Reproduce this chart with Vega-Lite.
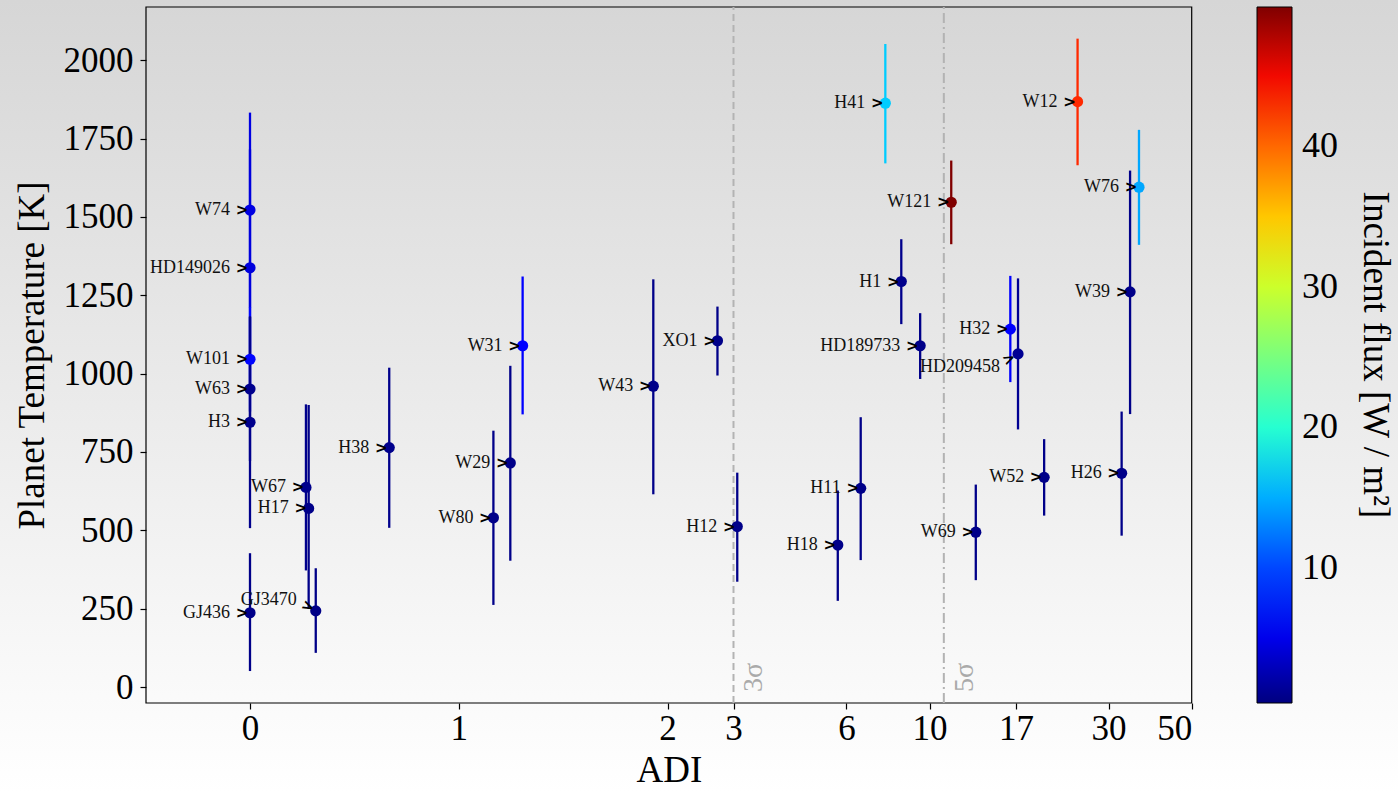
{
  "$schema": "https://vega.github.io/schema/vega-lite/v6.json",
  "width": 1398,
  "height": 793,
  "padding": 0,
  "autosize": {"type": "none"},
  "config": {
    "font": "Liberation Serif",
    "view": {
      "stroke": null,
      "fill": {"gradient": "linear", "x1": 0, "y1": 0, "x2": 0, "y2": 1,
        "stops": [{"offset": 0, "color": "#d6d6d6"}, {"offset": 1, "color": "#ffffff"}]}
    },
    "axis": {
      "labelFont": "Liberation Serif", "titleFont": "Liberation Serif",
      "labelColor": "black", "titleColor": "black", "titleFontWeight": "normal",
      "tickColor": "black", "tickSize": 6, "tickWidth": 1.2, "domain": false, "grid": false,
      "labelFontSize": 35, "titleFontSize": 37
    },
    "text": {"font": "Liberation Serif"}
  },
  "datasets": {
    "planets": [
      {"name": "W74", "adi": 0, "temp": 1522, "lo": 1211, "hi": 1833, "flux": 4.6},
      {"name": "HD149026", "adi": 0, "temp": 1338, "lo": 960, "hi": 1716, "flux": 4.4},
      {"name": "W101", "adi": 0, "temp": 1046, "lo": 879, "hi": 1213, "flux": 6.8},
      {"name": "W63", "adi": 0, "temp": 951, "lo": 721, "hi": 1181, "flux": 1.0},
      {"name": "H3", "adi": 0, "temp": 845, "lo": 507, "hi": 1183, "flux": 0.9},
      {"name": "GJ436", "adi": 0, "temp": 237, "lo": 51, "hi": 427, "flux": 0.8},
      {"name": "W67", "adi": 0.268, "temp": 637, "lo": 372, "hi": 902, "flux": 0.9},
      {"name": "H17", "adi": 0.281, "temp": 570, "lo": 250, "hi": 900, "flux": 0.8},
      {"name": "GJ3470", "adi": 0.315, "temp": 243, "lo": 109, "hi": 379, "flux": 0.7},
      {"name": "H38", "adi": 0.667, "temp": 764, "lo": 508, "hi": 1019, "flux": 0.9},
      {"name": "W80", "adi": 1.166, "temp": 540, "lo": 262, "hi": 818, "flux": 0.8},
      {"name": "W29", "adi": 1.247, "temp": 715, "lo": 403, "hi": 1025, "flux": 0.8},
      {"name": "W31", "adi": 1.306, "temp": 1089, "lo": 870, "hi": 1310, "flux": 6.5},
      {"name": "W43", "adi": 1.932, "temp": 960, "lo": 615, "hi": 1301, "flux": 0.8},
      {"name": "XO1", "adi": 2.73, "temp": 1105, "lo": 994, "hi": 1214, "flux": 0.8},
      {"name": "H12", "adi": 3.08, "temp": 512, "lo": 336, "hi": 684, "flux": 0.8},
      {"name": "H18", "adi": 5.71, "temp": 453, "lo": 275, "hi": 627, "flux": 0.8},
      {"name": "H11", "adi": 6.61, "temp": 634, "lo": 405, "hi": 861, "flux": 0.8},
      {"name": "H41", "adi": 7.66, "temp": 1863, "lo": 1671, "hi": 2052, "flux": 16.5},
      {"name": "H1", "adi": 8.44, "temp": 1294, "lo": 1158, "hi": 1429, "flux": 0.9},
      {"name": "HD189733", "adi": 9.48, "temp": 1089, "lo": 983, "hi": 1193, "flux": 0.8},
      {"name": "W121", "adi": 11.52, "temp": 1547, "lo": 1413, "hi": 1680, "flux": 49.9},
      {"name": "W69", "adi": 13.32, "temp": 494, "lo": 341, "hi": 646, "flux": 0.8},
      {"name": "H32", "adi": 16.48, "temp": 1142, "lo": 973, "hi": 1312, "flux": 6.0},
      {"name": "HD209458", "adi": 17.24, "temp": 1063, "lo": 822, "hi": 1304, "flux": 1.2},
      {"name": "W52", "adi": 20.35, "temp": 669, "lo": 547, "hi": 791, "flux": 0.8},
      {"name": "W12", "adi": 25.1, "temp": 1868, "lo": 1665, "hi": 2069, "flux": 43.3},
      {"name": "H26", "adi": 32.8, "temp": 682, "lo": 483, "hi": 879, "flux": 0.8},
      {"name": "W39", "adi": 34.6, "temp": 1261, "lo": 871, "hi": 1648, "flux": 0.8},
      {"name": "W76", "adi": 36.5, "temp": 1595, "lo": 1411, "hi": 1778, "flux": 14.7}
    ]
  },
  "layer": [
    {
      "data": {"values": [{}]},
      "mark": {"type": "rect", "fill": null, "stroke": "black", "strokeWidth": 1.2},
      "encoding": {
        "x": {"datum": -0.5, "type": "quantitative",
          "scale": {"type": "linear", "domain": [-0.5, 0, 2, 2.5, 3, 4, 5, 6, 8, 10, 13, 17, 22, 30, 40, 50], "range": [146, 250, 667.5, 703.8, 733.5, 780.4, 816.7, 846.4, 893.3, 929.6, 972.3, 1016, 1058, 1108.5, 1155.4, 1191.7], "nice": false, "zero": false},
          "axis": {"orient": "bottom", "offset": -90, "values": [0, 1, 2, 3, 6, 10, 17, 30, 50], "format": "d", "labelPadding": 2, "title": "ADI", "titlePadding": 6}},
        "x2": {"datum": 50},
        "y": {"datum": -51, "type": "quantitative",
          "scale": {"domain": [-51, 2170], "range": [703, 7], "nice": false, "zero": false},
          "axis": {"orient": "left", "offset": -146, "values": [0, 250, 500, 750, 1000, 1250, 1500, 1750, 2000], "format": "d", "labelPadding": 7, "title": "Planet Temperature [K]", "titlePadding": 12}},
        "y2": {"datum": 2170}
      }
    },
    {
      "data": {"values": [{}]},
      "mark": {"type": "rule", "color": "#b3b3b3", "strokeWidth": 2, "strokeDash": [7, 4]},
      "encoding": {
        "x": {"datum": 3, "type": "quantitative", "scale": {"type": "linear", "domain": [-0.5, 0, 2, 2.5, 3, 4, 5, 6, 8, 10, 13, 17, 22, 30, 40, 50], "range": [146, 250, 667.5, 703.8, 733.5, 780.4, 816.7, 846.4, 893.3, 929.6, 972.3, 1016, 1058, 1108.5, 1155.4, 1191.7], "nice": false, "zero": false}},
        "y": {"datum": -51, "type": "quantitative", "scale": {"domain": [-51, 2170], "range": [703, 7], "nice": false, "zero": false}},
        "y2": {"datum": 2170}
      }
    },
    {
      "data": {"values": [{}]},
      "mark": {"type": "rule", "color": "#b3b3b3", "strokeWidth": 2, "strokeDash": [10, 4, 2, 4]},
      "encoding": {
        "x": {"datum": 11, "type": "quantitative", "scale": {"type": "linear", "domain": [-0.5, 0, 2, 2.5, 3, 4, 5, 6, 8, 10, 13, 17, 22, 30, 40, 50], "range": [146, 250, 667.5, 703.8, 733.5, 780.4, 816.7, 846.4, 893.3, 929.6, 972.3, 1016, 1058, 1108.5, 1155.4, 1191.7], "nice": false, "zero": false}},
        "y": {"datum": -51, "type": "quantitative", "scale": {"domain": [-51, 2170], "range": [703, 7], "nice": false, "zero": false}},
        "y2": {"datum": 2170}
      }
    },
    {
      "data": {"values": [{}]},
      "mark": {"type": "text", "text": "3σ", "color": "#aaaaaa", "fontSize": 28, "angle": 270, "align": "left", "baseline": "middle", "dy": 20},
      "encoding": {
        "x": {"datum": 3, "type": "quantitative", "scale": {"type": "linear", "domain": [-0.5, 0, 2, 2.5, 3, 4, 5, 6, 8, 10, 13, 17, 22, 30, 40, 50], "range": [146, 250, 667.5, 703.8, 733.5, 780.4, 816.7, 846.4, 893.3, 929.6, 972.3, 1016, 1058, 1108.5, 1155.4, 1191.7], "nice": false, "zero": false}},
        "y": {"datum": -16, "type": "quantitative", "scale": {"domain": [-51, 2170], "range": [703, 7], "nice": false, "zero": false}}
      }
    },
    {
      "data": {"values": [{}]},
      "mark": {"type": "text", "text": "5σ", "color": "#aaaaaa", "fontSize": 28, "angle": 270, "align": "left", "baseline": "middle", "dy": 21},
      "encoding": {
        "x": {"datum": 11, "type": "quantitative", "scale": {"type": "linear", "domain": [-0.5, 0, 2, 2.5, 3, 4, 5, 6, 8, 10, 13, 17, 22, 30, 40, 50], "range": [146, 250, 667.5, 703.8, 733.5, 780.4, 816.7, 846.4, 893.3, 929.6, 972.3, 1016, 1058, 1108.5, 1155.4, 1191.7], "nice": false, "zero": false}},
        "y": {"datum": -16, "type": "quantitative", "scale": {"domain": [-51, 2170], "range": [703, 7], "nice": false, "zero": false}}
      }
    },
    {
      "data": {"name": "planets"},
      "mark": {"type": "rule", "strokeWidth": 2.3},
      "encoding": {
        "x": {"field": "adi", "type": "quantitative", "scale": {"type": "linear", "domain": [-0.5, 0, 2, 2.5, 3, 4, 5, 6, 8, 10, 13, 17, 22, 30, 40, 50], "range": [146, 250, 667.5, 703.8, 733.5, 780.4, 816.7, 846.4, 893.3, 929.6, 972.3, 1016, 1058, 1108.5, 1155.4, 1191.7], "nice": false, "zero": false}},
        "y": {"field": "lo", "type": "quantitative", "scale": {"domain": [-51, 2170], "range": [703, 7], "nice": false, "zero": false}},
        "y2": {"field": "hi"},
        "stroke": {"field": "flux", "type": "quantitative", "legend": null,
          "scale": {"type": "linear", "domain": [0.3999, 5.845, 6.5875, 17.23, 17.725, 18.9625, 32.08, 32.575, 33.07, 44.455, 45.445, 49.9], "range": ["#000080", "#0000ff", "#0000ff", "#00dbff", "#00e5f7", "#15ffe2", "#eeff08", "#f7f500", "#ffec00", "#ff1300", "#e80000", "#800000"], "interpolate": "rgb", "zero": false, "nice": false}}
      }
    },
    {
      "data": {"name": "planets"},
      "mark": {"type": "circle", "size": 125, "opacity": 1},
      "encoding": {
        "x": {"field": "adi", "type": "quantitative", "scale": {"type": "linear", "domain": [-0.5, 0, 2, 2.5, 3, 4, 5, 6, 8, 10, 13, 17, 22, 30, 40, 50], "range": [146, 250, 667.5, 703.8, 733.5, 780.4, 816.7, 846.4, 893.3, 929.6, 972.3, 1016, 1058, 1108.5, 1155.4, 1191.7], "nice": false, "zero": false}},
        "y": {"field": "temp", "type": "quantitative", "scale": {"domain": [-51, 2170], "range": [703, 7], "nice": false, "zero": false}},
        "color": {"field": "flux", "type": "quantitative",
          "scale": {"type": "linear", "domain": [0.4, 5.845, 6.5875, 17.23, 17.725, 18.9625, 32.08, 32.575, 33.07, 44.455, 45.445, 49.9], "range": ["#000080", "#0000ff", "#0000ff", "#00dbff", "#00e5f7", "#15ffe2", "#eeff08", "#f7f500", "#ffec00", "#ff1300", "#e80000", "#800000"], "interpolate": "rgb", "zero": false, "nice": false},
          "legend": {"type": "gradient", "orient": "none", "legendX": 1257, "legendY": 7, "direction": "vertical", "gradientLength": 696, "gradientThickness": 35, "gradientStrokeColor": "black", "gradientStrokeWidth": 1, "values": [10, 20, 30, 40], "format": "d", "labelFont": "Liberation Serif", "labelFontSize": 36, "labelColor": "black", "labelOffset": 10, "title": "Incident flux [W / m²]", "titleFont": "Liberation Serif", "titleOrient": "right", "titleAngle": 90, "titleFontSize": 37, "titleFontWeight": "normal", "titleColor": "black", "titleAnchor": "middle", "titlePadding": 18, "titleLimit": 1000}}
      }
    },
    {
      "data": {"name": "planets"},
      "transform": [{"filter": "datum.name !== 'GJ3470' && datum.name !== 'HD209458'"}],
      "mark": {"type": "text", "align": "right", "baseline": "middle", "dx": -20, "fontSize": 18, "color": "#111111"},
      "encoding": {
        "x": {"field": "adi", "type": "quantitative", "scale": {"type": "linear", "domain": [-0.5, 0, 2, 2.5, 3, 4, 5, 6, 8, 10, 13, 17, 22, 30, 40, 50], "range": [146, 250, 667.5, 703.8, 733.5, 780.4, 816.7, 846.4, 893.3, 929.6, 972.3, 1016, 1058, 1108.5, 1155.4, 1191.7], "nice": false, "zero": false}},
        "y": {"field": "temp", "type": "quantitative", "scale": {"domain": [-51, 2170], "range": [703, 7], "nice": false, "zero": false}},
        "text": {"field": "name"}
      }
    },
    {
      "data": {"name": "planets"},
      "transform": [{"filter": "datum.name === 'GJ3470'"}],
      "mark": {"type": "text", "align": "right", "baseline": "middle", "dx": -19, "dy": -11, "fontSize": 18, "color": "#111111"},
      "encoding": {
        "x": {"field": "adi", "type": "quantitative", "scale": {"type": "linear", "domain": [-0.5, 0, 2, 2.5, 3, 4, 5, 6, 8, 10, 13, 17, 22, 30, 40, 50], "range": [146, 250, 667.5, 703.8, 733.5, 780.4, 816.7, 846.4, 893.3, 929.6, 972.3, 1016, 1058, 1108.5, 1155.4, 1191.7], "nice": false, "zero": false}},
        "y": {"field": "temp", "type": "quantitative", "scale": {"domain": [-51, 2170], "range": [703, 7], "nice": false, "zero": false}},
        "text": {"field": "name"}
      }
    },
    {
      "data": {"name": "planets"},
      "transform": [{"filter": "datum.name === 'HD209458'"}],
      "mark": {"type": "text", "align": "right", "baseline": "middle", "dx": -18, "dy": 13, "fontSize": 18, "color": "#111111"},
      "encoding": {
        "x": {"field": "adi", "type": "quantitative", "scale": {"type": "linear", "domain": [-0.5, 0, 2, 2.5, 3, 4, 5, 6, 8, 10, 13, 17, 22, 30, 40, 50], "range": [146, 250, 667.5, 703.8, 733.5, 780.4, 816.7, 846.4, 893.3, 929.6, 972.3, 1016, 1058, 1108.5, 1155.4, 1191.7], "nice": false, "zero": false}},
        "y": {"field": "temp", "type": "quantitative", "scale": {"domain": [-51, 2170], "range": [703, 7], "nice": false, "zero": false}},
        "text": {"field": "name"}
      }
    },
    {
      "data": {"name": "planets"},
      "transform": [{"filter": "datum.name !== 'GJ3470' && datum.name !== 'HD209458'"}],
      "mark": {"type": "text", "text": ">", "font": "DejaVu Sans", "align": "center", "baseline": "middle", "dx": -8, "fontSize": 15, "fontWeight": "bold", "color": "black"},
      "encoding": {
        "x": {"field": "adi", "type": "quantitative", "scale": {"type": "linear", "domain": [-0.5, 0, 2, 2.5, 3, 4, 5, 6, 8, 10, 13, 17, 22, 30, 40, 50], "range": [146, 250, 667.5, 703.8, 733.5, 780.4, 816.7, 846.4, 893.3, 929.6, 972.3, 1016, 1058, 1108.5, 1155.4, 1191.7], "nice": false, "zero": false}},
        "y": {"field": "temp", "type": "quantitative", "scale": {"domain": [-51, 2170], "range": [703, 7], "nice": false, "zero": false}}
      }
    },
    {
      "data": {"name": "planets"},
      "transform": [{"filter": "datum.name === 'GJ3470'"}],
      "mark": {"type": "text", "text": ">", "font": "DejaVu Sans", "align": "center", "baseline": "middle", "angle": 25, "dx": -9, "dy": -1, "fontSize": 15, "fontWeight": "bold", "color": "black"},
      "encoding": {
        "x": {"field": "adi", "type": "quantitative", "scale": {"type": "linear", "domain": [-0.5, 0, 2, 2.5, 3, 4, 5, 6, 8, 10, 13, 17, 22, 30, 40, 50], "range": [146, 250, 667.5, 703.8, 733.5, 780.4, 816.7, 846.4, 893.3, 929.6, 972.3, 1016, 1058, 1108.5, 1155.4, 1191.7], "nice": false, "zero": false}},
        "y": {"field": "temp", "type": "quantitative", "scale": {"domain": [-51, 2170], "range": [703, 7], "nice": false, "zero": false}}
      }
    },
    {
      "data": {"name": "planets"},
      "transform": [{"filter": "datum.name === 'HD209458'"}],
      "mark": {"type": "text", "text": ">", "font": "DejaVu Sans", "align": "center", "baseline": "middle", "angle": 335, "dx": -10.5, "dy": 0.6, "fontSize": 15, "fontWeight": "bold", "color": "black"},
      "encoding": {
        "x": {"field": "adi", "type": "quantitative", "scale": {"type": "linear", "domain": [-0.5, 0, 2, 2.5, 3, 4, 5, 6, 8, 10, 13, 17, 22, 30, 40, 50], "range": [146, 250, 667.5, 703.8, 733.5, 780.4, 816.7, 846.4, 893.3, 929.6, 972.3, 1016, 1058, 1108.5, 1155.4, 1191.7], "nice": false, "zero": false}},
        "y": {"field": "temp", "type": "quantitative", "scale": {"domain": [-51, 2170], "range": [703, 7], "nice": false, "zero": false}}
      }
    }
  ]
}
